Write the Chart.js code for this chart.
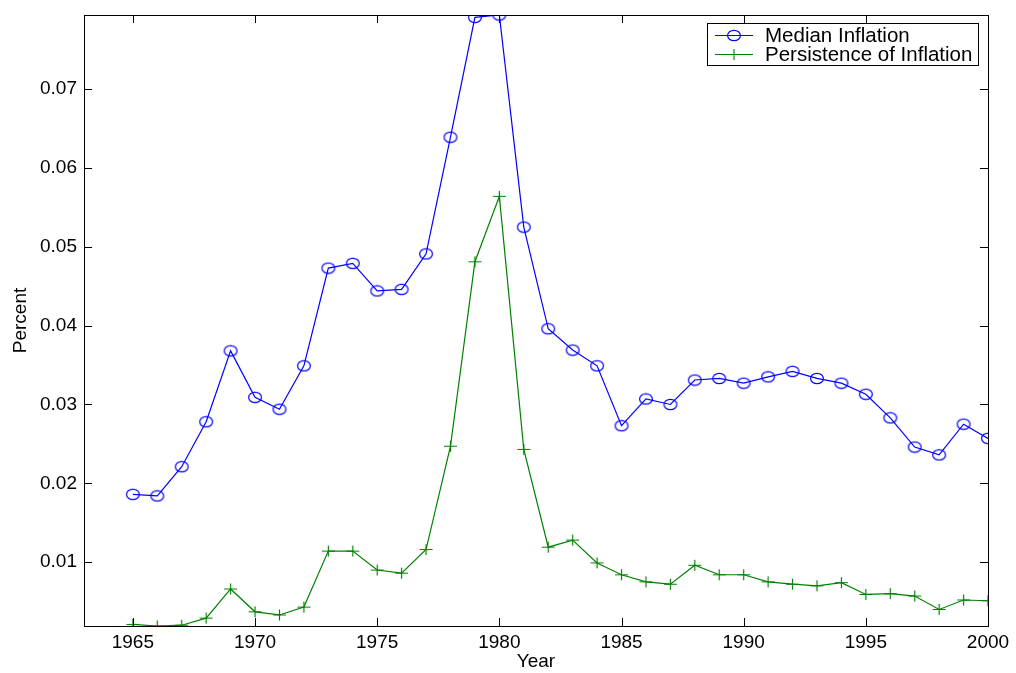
<!DOCTYPE html>
<html>
<head>
<meta charset="utf-8">
<script src="https://cdn.jsdelivr.net/npm/chart.js@4"></script>
<style>
  html, body { margin: 0; padding: 0; background: #fff; }
  #wrap { width: 1016px; height: 673px; }
</style>
</head>
<body>
<div id="wrap"><canvas id="inflationChart"></canvas></div>
<script>
const years = [1965,1966,1967,1968,1969,1970,1971,1972,1973,1974,1975,1976,1977,1978,1979,1980,1981,1982,
               1983,1984,1985,1986,1987,1988,1989,1990,1991,1992,1993,1994,1995,1996,1997,1998,1999,2000];

const medianInflation = [0.0186,0.0184,0.0221,0.0278,0.0368,0.0309,0.0294,0.0349,0.0473,0.0479,0.0444,0.0446,
                         0.0491,0.0639,0.0791,0.0794,0.0525,0.0396,0.0369,0.0349,0.0273,0.0307,0.0300,0.0331,
                         0.0333,0.0327,0.0335,0.0342,0.0333,0.0327,0.0313,0.0283,0.0246,0.0236,0.0275,0.0257];

const persistence = [0.0021,0.0019,0.0020,0.0029,0.0066,0.0037,0.0033,0.0043,0.0114,0.0114,0.0090,0.0086,
                     0.0116,0.0247,0.0481,0.0564,0.0243,0.0119,0.0128,0.0099,0.0084,0.0075,0.0072,0.0096,
                     0.0084,0.0084,0.0075,0.0072,0.0070,0.0074,0.0059,0.0060,0.0057,0.0040,0.0052,0.0051];

const xTicks = [1965,1970,1975,1980,1985,1990,1995,2000];
const yTicks = [0.01,0.02,0.03,0.04,0.05,0.06,0.07];

const blue = '#0000ff';
const green = '#008000';
const font = 'Liberation Sans, Arial, sans-serif';

// little marker sprites, matlab-style open circle and plus
function ellipseMarker() {
    const c = document.createElement('canvas');
    c.width = 16; c.height = 13;
    const g = c.getContext('2d');
    g.strokeStyle = blue;
    g.lineWidth = 1.2;
    g.beginPath();
    g.ellipse(8, 6.5, 6.4, 5.2, 0, 0, Math.PI * 2);
    g.stroke();
    return c;
}
function plusMarker() {
    const c = document.createElement('canvas');
    c.width = 15; c.height = 13;
    const g = c.getContext('2d');
    g.strokeStyle = green;
    g.lineWidth = 1.2;
    g.beginPath();
    g.moveTo(1, 6.5); g.lineTo(14, 6.5);
    g.moveTo(7.5, 1); g.lineTo(7.5, 12);
    g.stroke();
    return c;
}
const circleImg = ellipseMarker();
const plusImg = plusMarker();

// box around the axes, inward ticks on all four sides, boxed legend
const frame = {
    id: 'frame',
    afterDraw(chart) {
        const { ctx, chartArea: a, scales } = chart;
        const tl = 8;
        ctx.save();
        ctx.strokeStyle = '#000';
        ctx.lineWidth = 1;
        ctx.beginPath();
        xTicks.forEach(v => {
            const x = Math.round(scales.x.getPixelForValue(v)) + 0.5;
            ctx.moveTo(x, a.bottom); ctx.lineTo(x, a.bottom - tl);
            ctx.moveTo(x, a.top); ctx.lineTo(x, a.top + tl);
        });
        yTicks.forEach(v => {
            const y = Math.round(scales.y.getPixelForValue(v)) + 0.5;
            ctx.moveTo(a.left, y); ctx.lineTo(a.left + tl, y);
            ctx.moveTo(a.right, y); ctx.lineTo(a.right - tl, y);
        });
        ctx.stroke();
        ctx.strokeRect(Math.round(a.left) + 0.5, Math.round(a.top) + 0.5,
                       Math.round(a.right - a.left), Math.round(a.bottom - a.top));

        // legend
        const lx = 707, ly = 23, lw = 271, lh = 42;
        ctx.fillStyle = '#fff';
        ctx.fillRect(lx, ly, lw, lh);
        ctx.strokeRect(lx + 0.5, ly + 0.5, lw, lh);
        const rows = [
            { label: 'Median Inflation', color: blue, img: circleImg, y: ly + 12 },
            { label: 'Persistence of Inflation', color: green, img: plusImg, y: ly + 31 }
        ];
        ctx.font = '20.5px ' + font;
        ctx.textBaseline = 'middle';
        rows.forEach(r => {
            ctx.strokeStyle = r.color;
            ctx.beginPath();
            ctx.moveTo(715, r.y + 0.5); ctx.lineTo(753, r.y + 0.5);
            ctx.stroke();
            ctx.drawImage(r.img, 734 - r.img.width / 2, r.y + 0.5 - r.img.height / 2);
            ctx.fillStyle = '#000';
            ctx.fillText(r.label, 765, r.y + 1);
        });
        ctx.restore();
    }
};

new Chart(document.getElementById('inflationChart'), {
    type: 'line',
    data: {
        datasets: [{
            label: 'Median Inflation',
            data: years.map((y, i) => ({ x: y, y: medianInflation[i] })),
            borderColor: blue,
            borderWidth: 1.2,
            pointStyle: circleImg,
            pointRadius: 6,
            tension: 0
        }, {
            label: 'Persistence of Inflation',
            data: years.map((y, i) => ({ x: y, y: persistence[i] })),
            borderColor: green,
            borderWidth: 1.2,
            pointStyle: plusImg,
            pointRadius: 6,
            tension: 0
        }]
    },
    options: {
        responsive: true,
        maintainAspectRatio: false,
        animation: false,
        layout: { padding: { left: 0, right: 28, top: 15, bottom: 0 } },
        plugins: {
            legend: { display: false },
            tooltip: { enabled: false }
        },
        scales: {
            x: {
                type: 'linear',
                min: 1963,
                max: 2000,
                afterBuildTicks: s => { s.ticks = xTicks.map(v => ({ value: v })); },
                afterFit: s => { s.height = 47; },
                grid: { display: false, drawTicks: false },
                border: { display: false },
                ticks: {
                    color: '#000',
                    padding: 5,
                    maxRotation: 0,
                    font: { family: font, size: 19 },
                    callback: v => String(v)
                },
                title: {
                    display: true,
                    text: 'Year',
                    color: '#000',
                    font: { family: font, size: 19 },
                    padding: { top: 0, bottom: 0 }
                }
            },
            y: {
                min: 0.0019,
                max: 0.0794,
                afterBuildTicks: s => { s.ticks = yTicks.map(v => ({ value: v })); },
                afterFit: s => { s.width = 84; s.paddingTop = 0; s.paddingBottom = 0; },
                grid: { display: false, drawTicks: false },
                border: { display: false },
                ticks: {
                    color: '#000',
                    padding: 7,
                    font: { family: font, size: 19 },
                    callback: v => v.toFixed(2)
                },
                title: {
                    display: true,
                    text: 'Percent',
                    color: '#000',
                    font: { family: font, size: 19 },
                    padding: { top: 9, bottom: 0 }
                }
            }
        }
    },
    plugins: [frame]
});
</script>
</body>
</html>
